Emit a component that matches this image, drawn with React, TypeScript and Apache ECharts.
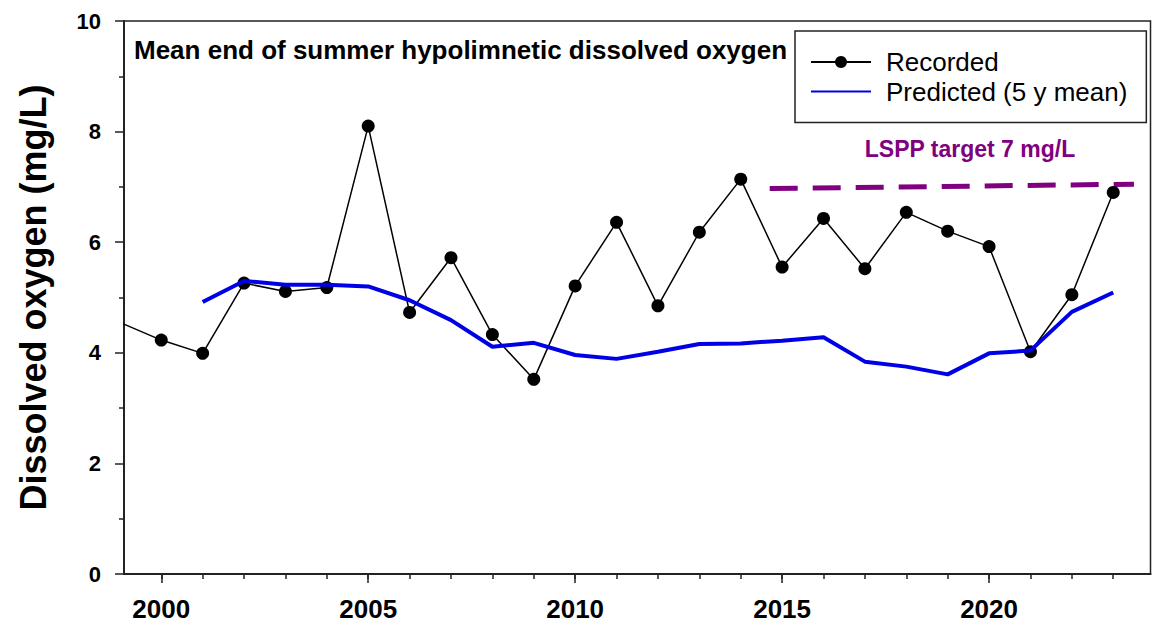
import React, { useEffect, useRef } from "react";
import * as echarts from "echarts";

const FONT = "'Liberation Sans', Arial, sans-serif";

const recordedYears = [1999, 2000, 2001, 2002, 2003, 2004, 2005, 2006, 2007, 2008, 2009, 2010, 2011, 2012, 2013, 2014, 2015, 2016, 2017, 2018, 2019, 2020, 2021, 2022, 2023];
const recordedValues = [4.55, 4.23, 3.99, 5.26, 5.11, 5.18, 8.1, 4.73, 5.72, 4.33, 3.52, 5.21, 6.36, 4.85, 6.18, 7.14, 5.55, 6.43, 5.52, 6.54, 6.2, 5.92, 4.02, 5.05, 6.9];

const predictedYears = [2001, 2002, 2003, 2004, 2005, 2006, 2007, 2008, 2009, 2010, 2011, 2012, 2013, 2014, 2015, 2016, 2017, 2018, 2019, 2020, 2021, 2022, 2023];
const predictedValues = [4.92, 5.3, 5.23, 5.23, 5.2, 4.95, 4.59, 4.11, 4.18, 3.96, 3.89, 4.02, 4.16, 4.17, 4.22, 4.28, 3.84, 3.75, 3.61, 3.99, 4.04, 4.74, 5.09];

const targetYears = [2014.7, 2023.5];
const targetValues = [6.97, 7.05];

const majorYearTicks = [2000, 2005, 2010, 2015, 2020];
const minorYearTicks = [2000, 2001, 2002, 2003, 2004, 2005, 2006, 2007, 2008, 2009, 2010, 2011, 2012, 2013, 2014, 2015, 2016, 2017, 2018, 2019, 2020, 2021, 2022, 2023];

const TITLE = "Mean end of summer hypolimnetic dissolved oxygen";
const Y_NAME = "Dissolved oxygen (mg/L)";
const TARGET_LABEL = "LSPP target 7 mg/L";

export default function App() {
  const ref = useRef<HTMLDivElement>(null);
  useEffect(() => {
    if (!ref.current) return;
    const chart = echarts.init(ref.current, null, { renderer: "svg" });
    const xMin = 1999.1;
    const xMax = 2023.9;
    chart.setOption({
      animation: false,
      backgroundColor: "#fff",
      title: {
        text: TITLE,
        left: 134,
        top: 37,
        padding: 0,
        z: 2,
        textStyle: { fontFamily: FONT, fontWeight: "bold", fontSize: 26, color: "#000" },
      },
      legend: {
        data: [
          { name: "Recorded" },
          { name: "Predicted (5 y mean)", itemStyle: { opacity: 0 } },
        ],
        orient: "vertical",
        left: 795,
        top: 31,
        padding: [18, 19, 18, 15],
        itemGap: 3.5,
        itemWidth: 60,
        itemHeight: 15,
        backgroundColor: "#fff",
        borderColor: "#222",
        borderWidth: 1.5,
        borderRadius: 0,
        z: 10,
        textStyle: { fontFamily: FONT, fontSize: 26, color: "#000", lineHeight: 26, padding: [0, 0, 0, 10] },
      },
      grid: {
        left: 124,
        right: 12.5,
        top: 21,
        bottom: 52,
        outerBoundsMode: "none",
        containLabel: false,
        show: true,
        borderColor: "#222",
        borderWidth: 1.5,
        backgroundColor: "transparent",
      },
      xAxis: [
        {
          type: "value",
          min: xMin,
          max: xMax,
          position: "bottom",
          splitLine: { show: false },
          axisLine: { show: true, onZero: false, lineStyle: { color: "#222", width: 2 } },
          axisTick: { show: true, customValues: majorYearTicks, length: 9, lineStyle: { color: "#222", width: 1.5 } },
          axisLabel: {
            customValues: majorYearTicks,
            margin: 22,
            fontFamily: FONT,
            fontWeight: "bold",
            fontSize: 26,
            color: "#000",
            formatter: (v: number) => String(v),
          },
        },
        {
          type: "value",
          min: xMin,
          max: xMax,
          position: "bottom",
          splitLine: { show: false },
          axisLine: { show: false },
          axisTick: { show: true, customValues: minorYearTicks, length: 5, lineStyle: { color: "#222", width: 1.5 } },
          axisLabel: { show: false },
        },
      ],
      yAxis: {
        type: "value",
        min: 0,
        max: 10,
        interval: 2,
        splitLine: { show: false },
        axisLine: { show: true, lineStyle: { color: "#222", width: 2 } },
        axisTick: { show: true, length: 9, lineStyle: { color: "#222", width: 1.5 } },
        minorTick: { show: true, splitNumber: 2, length: 5, lineStyle: { color: "#222", width: 1.5 } },
        axisLabel: { margin: 23, fontFamily: FONT, fontWeight: "bold", fontSize: 22, color: "#000" },
        name: Y_NAME,
        nameLocation: "middle",
        nameGap: 73,
        nameRotate: 90,
        nameTextStyle: { fontFamily: FONT, fontWeight: "bold", fontSize: 36, color: "#000" },
      },
      graphic: [
        {
          type: "text",
          x: 970,
          y: 149,
          style: {
            text: TARGET_LABEL,
            fill: "#800080",
            font: `bold 23px ${FONT}`,
            textAlign: "center",
            textVerticalAlign: "middle",
          },
        },
      ],
      series: [
        {
          name: "Recorded",
          type: "line",
          clip: true,
          data: recordedYears.map((y, i) => [y, recordedValues[i]]),
          symbol: "circle",
          symbolSize: 13,
          showAllSymbol: true,
          itemStyle: { color: "#000" },
          lineStyle: { color: "#000", width: 1.5 },
          z: 3,
        },
        {
          name: "Predicted (5 y mean)",
          type: "line",
          clip: true,
          data: predictedYears.map((y, i) => [y, predictedValues[i]]),
          symbol: "none",
          itemStyle: { color: "#0000e6" },
          lineStyle: { color: "#0000e6", width: 4 },
          z: 4,
        },
        {
          name: "Target",
          type: "line",
          clip: true,
          data: targetYears.map((y, i) => [y, targetValues[i]]),
          symbol: "none",
          itemStyle: { color: "#800080" },
          lineStyle: { color: "#800080", width: 5, type: [28, 15] },
          z: 3,
        },
      ],
    });
    return () => chart.dispose();
  }, []);
  return (
    <div
      ref={ref}
      style={{ position: "fixed", left: 0, top: 0, width: 1163, height: 626, background: "#fff" }}
    />
  );
}
